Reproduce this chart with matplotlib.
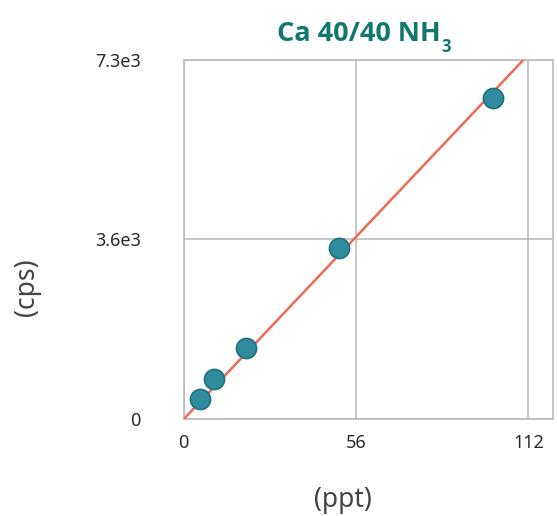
import matplotlib
matplotlib.use("Agg")
import matplotlib.pyplot as plt
import numpy as np

conc_ppt = [5.2, 9.8, 20.2, 50.5, 100.6]
signal_cps = [404, 808, 1434, 3454, 6485]
fit_slope = 65.7
x_ticks = [0, 56, 112]
y_ticks = [0, 3625, 7250]
y_tick_labels = ["0", "3.6e3", "7.3e3"]
x_max = 120
y_max = 7250

plt.rcParams['font.family'] = ['Noto Sans', 'DejaVu Sans']

fig = plt.figure(figsize=(5.57, 5.16), dpi=100)
ax = fig.add_axes([0.330, 0.188, 0.663, 0.696])

ax.set_xlim(0, x_max)
ax.set_ylim(0, y_max)

xf = np.array([0, y_max / fit_slope])
ax.plot(xf, fit_slope * xf, color="#ee6a55", lw=1.8, zorder=3, clip_on=True)
ax.scatter(conc_ppt, signal_cps, s=210, color="#2f8c9c", edgecolor="#24707e",
           linewidth=1.2, zorder=4, clip_on=False)

ax.set_xticks(x_ticks)
ax.set_xticklabels([str(t) for t in x_ticks])
ax.set_yticks(y_ticks)
ax.set_yticklabels(y_tick_labels)
ax.grid(True, color="#b8bcc0", lw=1.2, zorder=0)
ax.tick_params(length=0, labelsize=13, labelcolor="#2a2a2a")
ax.tick_params(axis='x', pad=11)
ax.tick_params(axis='y', pad=31)
for s in ax.spines.values():
    s.set_color("#b8bcc0")
    s.set_linewidth(1.2)

ax.text(0.432, -0.226, "(ppt)", transform=ax.transAxes, ha="center", va="center",
        fontsize=19, color="#444444")
ax.text(-0.425, 0.368, "(cps)", transform=ax.transAxes, ha="center", va="center",
        fontsize=19, color="#444444", rotation=90)

title_font = dict(family=["Open Sans", "DejaVu Sans"], weight="bold",
                  stretch="normal")
t = fig.text(0.645, 0.935, "Ca 40/40 NH", ha="center", va="center",
             fontsize=19.5, color="#12786f", **title_font)
fig.canvas.draw()
bb = t.get_window_extent()
fig.text(bb.x1 / fig.bbox.width + 0.001, 0.908, "3", ha="left", va="center",
         fontsize=12, color="#12786f", **title_font)

fig.savefig("out.png", dpi=100, facecolor="white")
